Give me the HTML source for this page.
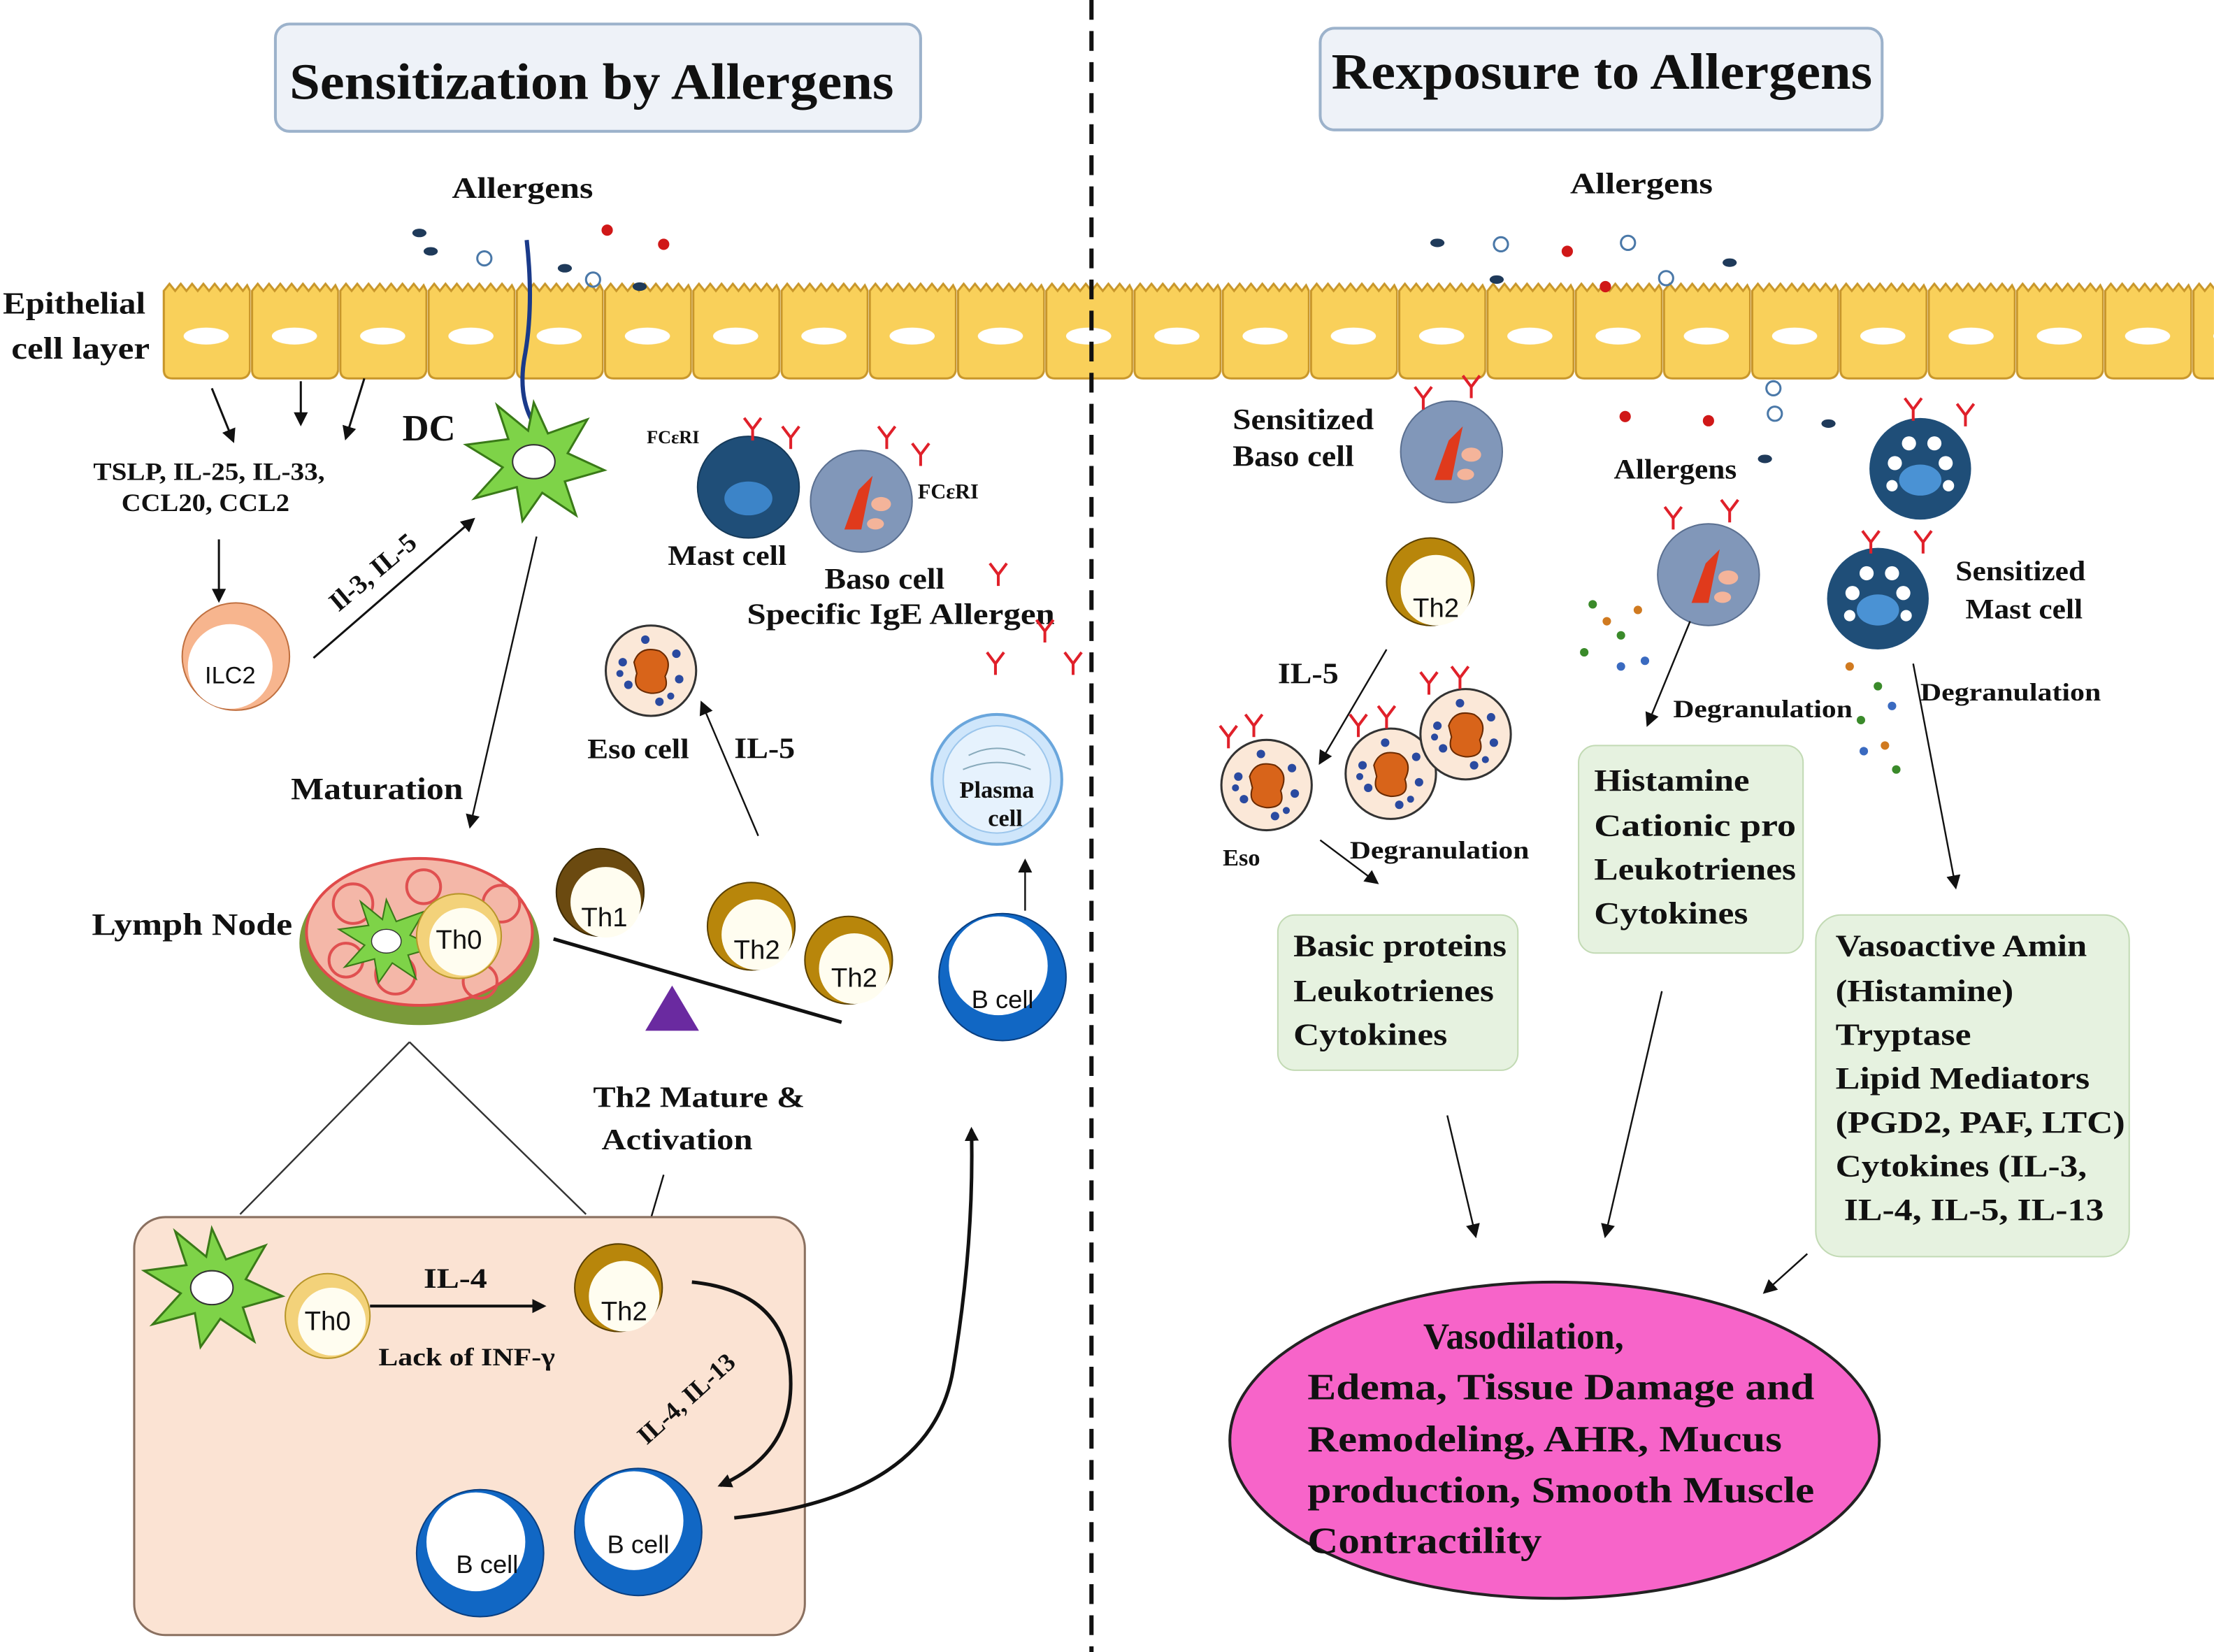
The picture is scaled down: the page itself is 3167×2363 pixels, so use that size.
<!DOCTYPE html>
<html><head><meta charset="utf-8"><style>
html,body{margin:0;padding:0;background:#fff;}
svg{display:block;}
text{font-family:"Liberation Serif",serif;font-weight:bold;fill:#111;}
.s{font-family:"Liberation Sans",sans-serif;font-weight:normal;}
</style></head><body>
<svg width="3167" height="2363" viewBox="0 0 1568 1170" xmlns="http://www.w3.org/2000/svg">
<defs>
<pattern id="cells" x="115" y="198" width="62.5" height="72" patternUnits="userSpaceOnUse">
<path d="M1,8 l4,-5 l4,5 l4,-5 l4,5 l4,-5 l4,5 l4,-5 l4,5 l4,-5 l4,5 l4,-5 l4,5 l4,-5 l4,5 l3,-4 l2,4 V64 Q61,70 55,70 H7 Q1,70 1,64 Z" fill="#f9d05a" stroke="#c8962a" stroke-width="1.5"/>
<ellipse cx="31" cy="40" rx="16" ry="6" fill="#fff"/>
</pattern>
<marker id="a" markerWidth="10" markerHeight="10" refX="8" refY="5" orient="auto" markerUnits="userSpaceOnUse"><path d="M0,0 L10,5 L0,10 Z" fill="#111"/></marker>
<g id="thG"><circle r="31" fill="#b8860b" stroke="#5a4000" stroke-width="1"/><circle cx="4" cy="6" r="25" fill="#fffdf0"/></g>
<g id="thD"><circle r="31" fill="#6b4a10" stroke="#3a2800" stroke-width="1"/><circle cx="4" cy="7" r="25" fill="#fffdf0"/></g>
<g id="th0"><circle r="30" fill="#f3d27a" stroke="#b8962a"/><circle cx="3" cy="4" r="24" fill="#fffdf0"/></g>
<g id="bc"><circle r="45" fill="#1167c4" stroke="#0a3f80"/><circle cx="-3" cy="-8" r="35" fill="#fff"/></g>
<g id="mast"><circle r="36" fill="#1f4e78" stroke="#163a5a"/><ellipse cx="0" cy="8" rx="17" ry="12" fill="#3c84c8"/></g>
<g id="mastS"><circle r="36" fill="#1f4e78"/><ellipse cx="0" cy="8" rx="15" ry="11" fill="#4a92d4"/><circle cx="-18" cy="-4" r="5" fill="#fff"/><circle cx="18" cy="-4" r="5" fill="#fff"/><circle cx="-8" cy="-18" r="5" fill="#fff"/><circle cx="10" cy="-18" r="5" fill="#fff"/><circle cx="-20" cy="12" r="4" fill="#fff"/><circle cx="20" cy="12" r="4" fill="#fff"/></g>
<g id="baso"><circle r="36" fill="#8197b9" stroke="#5a6f90"/><path d="M-12,20 L-2,-8 L8,-18 L4,0 L0,20 Z" fill="#e03a1c"/><ellipse cx="14" cy="2" rx="7" ry="5" fill="#f4b49a"/><ellipse cx="10" cy="16" rx="6" ry="4" fill="#f4b49a"/></g>
<g id="eso"><circle r="32" fill="#fbe8d8" stroke="#333" stroke-width="1.5"/><path d="M-12,-6 Q-8,-18 6,-14 Q16,-8 10,4 Q14,16 0,16 Q-14,14 -10,2 Z" fill="#d8641a" stroke="#6a2a00"/><g fill="#2a4aa0"><circle cx="-20" cy="-6" r="3"/><circle cx="-16" cy="10" r="3"/><circle cx="18" cy="-12" r="3"/><circle cx="20" cy="6" r="3"/><circle cx="-4" cy="-22" r="3"/><circle cx="6" cy="22" r="3"/><circle cx="-22" cy="2" r="2.5"/><circle cx="14" cy="18" r="2.5"/></g></g>
<g id="dc"><path d="M0,-40 L10,-18 L38,-28 L24,-4 L50,8 L22,16 L30,40 L6,24 L-8,44 L-12,20 L-42,28 L-22,6 L-48,-10 L-18,-14 L-26,-38 L-4,-20 Z" fill="#7ed348" stroke="#3a7a18" stroke-width="1.5"/><ellipse cx="0" cy="2" rx="15" ry="12" fill="#fff" stroke="#333"/></g>
<g id="y"><path d="M0,0 V-8 M0,-8 L-6,-16 M0,-8 L6,-16" stroke="#e0202a" stroke-width="2" fill="none"/></g>
</defs>

<rect x="195" y="17" width="457" height="76" rx="10" fill="#eef2f8" stroke="#9cb2cb" stroke-width="2"/>
<text x="205" y="70" font-size="36" textLength="428" lengthAdjust="spacingAndGlyphs">Sensitization by Allergens</text>
<rect x="935" y="20" width="398" height="72" rx="10" fill="#eef2f8" stroke="#9cb2cb" stroke-width="2"/>
<text x="943" y="63" font-size="36" textLength="383" lengthAdjust="spacingAndGlyphs">Rexposure to Allergens</text>

<rect x="115" y="198" width="1453" height="72" fill="url(#cells)"/>
<line x1="773" y1="0" x2="773" y2="1170" stroke="#111" stroke-width="3" stroke-dasharray="14,8"/>

<text x="2" y="222" font-size="22" textLength="101" lengthAdjust="spacingAndGlyphs">Epithelial</text>
<text x="8" y="254" font-size="22" textLength="98" lengthAdjust="spacingAndGlyphs">cell layer</text>
<text x="320" y="140" font-size="21" textLength="100" lengthAdjust="spacingAndGlyphs">Allergens</text>
<text x="1112" y="137" font-size="21" textLength="101" lengthAdjust="spacingAndGlyphs">Allergens</text>

<g fill="#1f3a5a"><ellipse cx="297" cy="165" rx="5" ry="3"/><ellipse cx="305" cy="178" rx="5" ry="3"/><ellipse cx="400" cy="190" rx="5" ry="3"/><ellipse cx="453" cy="203" rx="5" ry="3"/></g>
<g fill="none" stroke="#4a78a8" stroke-width="1.5"><circle cx="343" cy="183" r="5"/><circle cx="420" cy="198" r="5"/></g>
<g fill="#d01818"><circle cx="430" cy="163" r="4"/><circle cx="470" cy="173" r="4"/></g>
<path d="M373,170 Q378,215 372,250 Q366,280 378,300" stroke="#1a3a8a" stroke-width="3" fill="none"/>
<g fill="#1f3a5a"><ellipse cx="1018" cy="172" rx="5" ry="3"/><ellipse cx="1225" cy="186" rx="5" ry="3"/><ellipse cx="1060" cy="198" rx="5" ry="3"/><ellipse cx="1295" cy="300" rx="5" ry="3"/><ellipse cx="1250" cy="325" rx="5" ry="3"/></g>
<g fill="none" stroke="#4a78a8" stroke-width="1.5"><circle cx="1063" cy="173" r="5"/><circle cx="1153" cy="172" r="5"/><circle cx="1180" cy="197" r="5"/><circle cx="1256" cy="275" r="5"/><circle cx="1257" cy="293" r="5"/></g>
<g fill="#d01818"><circle cx="1110" cy="178" r="4"/><circle cx="1137" cy="203" r="4"/><circle cx="1151" cy="295" r="4"/><circle cx="1210" cy="298" r="4"/></g>

<line x1="150" y1="275" x2="165" y2="312" stroke="#111" stroke-width="1.5" marker-end="url(#a)"/>
<line x1="213" y1="270" x2="213" y2="300" stroke="#111" stroke-width="1.5" marker-end="url(#a)"/>
<line x1="258" y1="268" x2="245" y2="310" stroke="#111" stroke-width="1.5" marker-end="url(#a)"/>
<text x="66" y="340" font-size="18" textLength="164" lengthAdjust="spacingAndGlyphs">TSLP, IL-25, IL-33,</text>
<text x="86" y="362" font-size="18" textLength="119" lengthAdjust="spacingAndGlyphs">CCL20, CCL2</text>
<line x1="155" y1="382" x2="155" y2="425" stroke="#111" stroke-width="1.5" marker-end="url(#a)"/>
<circle cx="167" cy="465" r="38" fill="#f7b58e" stroke="#c07040"/>
<circle cx="163" cy="472" r="30" fill="#fff"/>
<text x="163" y="484" class="s" font-size="17" text-anchor="middle">ILC2</text>
<line x1="222" y1="466" x2="335" y2="368" stroke="#111" stroke-width="1.5" marker-end="url(#a)"/>
<text x="268" y="410" font-size="19" text-anchor="middle" transform="rotate(-40 268 410)">Il-3, IL-5</text>
<use href="#dc" x="378" y="325"/>
<text x="285" y="312" font-size="26">DC</text>
<line x1="380" y1="380" x2="333" y2="585" stroke="#111" stroke-width="1.2" marker-end="url(#a)"/>
<text x="206" y="566" font-size="22" textLength="122" lengthAdjust="spacingAndGlyphs">Maturation</text>

<use href="#mast" x="530" y="345"/>
<use href="#y" x="533" y="312"/><use href="#y" x="560" y="318"/>
<text x="458" y="314" font-size="13">FCεRI</text>
<text x="473" y="400" font-size="20" textLength="84" lengthAdjust="spacingAndGlyphs">Mast cell</text>
<use href="#baso" x="610" y="355"/>
<use href="#y" x="628" y="318"/><use href="#y" x="652" y="330"/>
<text x="650" y="353" font-size="15">FCεRI</text>
<text x="584" y="417" font-size="21" textLength="85" lengthAdjust="spacingAndGlyphs">Baso cell</text>
<text x="529" y="442" font-size="21" textLength="218" lengthAdjust="spacingAndGlyphs">Specific IgE Allergen</text>
<use href="#y" x="707" y="415"/><use href="#y" x="740" y="455"/><use href="#y" x="705" y="478"/><use href="#y" x="760" y="478"/>

<use href="#eso" x="461" y="475"/>
<text x="416" y="537" font-size="20" textLength="72" lengthAdjust="spacingAndGlyphs">Eso cell</text>
<text x="520" y="537" font-size="21" textLength="43" lengthAdjust="spacingAndGlyphs">IL-5</text>
<line x1="537" y1="592" x2="497" y2="498" stroke="#111" stroke-width="1.2" marker-end="url(#a)"/>

<circle cx="706" cy="552" r="46" fill="#cfe6fb" stroke="#6aa6dc" stroke-width="2"/>
<circle cx="706" cy="552" r="38" fill="#e6f2fd" stroke="#9cc6ec"/>
<path d="M686,535 Q706,525 726,535 M682,545 Q706,535 730,545" stroke="#8ab" fill="none"/>
<text x="706" y="565" font-size="17" text-anchor="middle">Plasma</text>
<text x="712" y="585" font-size="17" text-anchor="middle">cell</text>
<line x1="726" y1="645" x2="726" y2="610" stroke="#111" stroke-width="1.2" marker-end="url(#a)"/>
<use href="#bc" x="710" y="692"/>
<text x="710" y="714" class="s" font-size="18" text-anchor="middle">B cell</text>

<ellipse cx="297" cy="668" rx="85" ry="58" fill="#7a9a3a"/>
<ellipse cx="297" cy="660" rx="80" ry="52" fill="#f4b7a8" stroke="#e04a4a" stroke-width="2"/>
<g fill="none" stroke="#e05050" stroke-width="2"><circle cx="250" cy="640" r="14"/><circle cx="280" cy="690" r="14"/><circle cx="355" cy="640" r="13"/><circle cx="245" cy="680" r="12"/><circle cx="340" cy="695" r="12"/><circle cx="300" cy="628" r="12"/></g>
<use href="#dc" x="268" y="656" transform="translate(86 206) scale(0.7)" />
<use href="#th0" x="325" y="663"/>
<text x="325" y="672" class="s" font-size="19" text-anchor="middle">Th0</text>
<text x="65" y="662" font-size="22" textLength="142" lengthAdjust="spacingAndGlyphs">Lymph  Node</text>

<line x1="392" y1="665" x2="596" y2="724" stroke="#111" stroke-width="2.5"/>
<use href="#thD" x="425" y="632"/><text x="428" y="656" class="s" font-size="19" text-anchor="middle">Th1</text>
<use href="#thG" x="532" y="656"/><text x="536" y="679" class="s" font-size="19" text-anchor="middle">Th2</text>
<use href="#thG" x="601" y="680"/><text x="605" y="699" class="s" font-size="19" text-anchor="middle">Th2</text>
<path d="M457,730 L476,698 L495,730 Z" fill="#6a2aa0"/>

<line x1="170" y1="860" x2="290" y2="738" stroke="#333" stroke-width="1.2"/>
<line x1="290" y1="738" x2="415" y2="860" stroke="#333" stroke-width="1.2"/>
<text x="420" y="784" font-size="21" textLength="150" lengthAdjust="spacingAndGlyphs">Th2 Mature &amp;</text>
<text x="426" y="814" font-size="21" textLength="107" lengthAdjust="spacingAndGlyphs">Activation</text>
<line x1="470" y1="832" x2="458" y2="873" stroke="#111" stroke-width="1.2" marker-end="url(#a)"/>

<rect x="95" y="862" width="475" height="296" rx="22" fill="#fbe3d3" stroke="#8a7060" stroke-width="1.5"/>
<use href="#dc" x="150" y="910"/>
<use href="#th0" x="232" y="932"/><text x="232" y="942" class="s" font-size="19" text-anchor="middle">Th0</text>
<line x1="262" y1="925" x2="385" y2="925" stroke="#111" stroke-width="2" marker-end="url(#a)"/>
<text x="300" y="912" font-size="20" textLength="45" lengthAdjust="spacingAndGlyphs">IL-4</text>
<text x="268" y="967" font-size="18" textLength="125" lengthAdjust="spacingAndGlyphs">Lack of INF-γ</text>
<use href="#thG" x="438" y="912"/><text x="442" y="935" class="s" font-size="19" text-anchor="middle">Th2</text>
<path d="M490,908 Q560,915 560,980 Q560,1030 510,1052" stroke="#111" stroke-width="2.5" fill="none" marker-end="url(#a)"/>
<text x="490" y="995" font-size="18" text-anchor="middle" transform="rotate(-42 490 995)">IL-4, IL-13</text>
<use href="#bc" x="340" y="1100"/><text x="345" y="1114" class="s" font-size="18" text-anchor="middle">B cell</text>
<use href="#bc" x="452" y="1085"/><text x="452" y="1100" class="s" font-size="18" text-anchor="middle">B cell</text>
<path d="M520,1075 Q660,1060 675,970 Q690,880 688,800" stroke="#111" stroke-width="2.5" fill="none" marker-end="url(#a)"/>

<text x="873" y="304" font-size="21" textLength="100" lengthAdjust="spacingAndGlyphs">Sensitized</text>
<text x="873" y="330" font-size="21" textLength="86" lengthAdjust="spacingAndGlyphs">Baso cell</text>
<use href="#baso" x="1028" y="320"/>
<use href="#y" x="1008" y="290"/><use href="#y" x="1042" y="282"/>
<use href="#thG" x="1013" y="412"/><text x="1017" y="437" class="s" font-size="19" text-anchor="middle">Th2</text>
<text x="905" y="484" font-size="21" textLength="43" lengthAdjust="spacingAndGlyphs">IL-5</text>
<line x1="982" y1="460" x2="935" y2="540" stroke="#111" stroke-width="1.2" marker-end="url(#a)"/>
<use href="#eso" x="897" y="556"/><use href="#eso" x="985" y="548"/><use href="#eso" x="1038" y="520"/>
<use href="#y" x="870" y="530"/><use href="#y" x="888" y="522"/><use href="#y" x="962" y="522"/><use href="#y" x="982" y="516"/><use href="#y" x="1012" y="492"/><use href="#y" x="1034" y="488"/>
<text x="866" y="613" font-size="17">Eso</text>
<text x="956" y="608" font-size="18" textLength="127" lengthAdjust="spacingAndGlyphs">Degranulation</text>
<line x1="935" y1="595" x2="975" y2="625" stroke="#111" stroke-width="1.2" marker-end="url(#a)"/>
<rect x="905" y="648" width="170" height="110" rx="12" fill="#e6f2e0" stroke="#c2dab4"/>
<text x="916" y="677" font-size="22" textLength="151" lengthAdjust="spacingAndGlyphs">Basic proteins</text>
<text x="916" y="709" font-size="22" textLength="142" lengthAdjust="spacingAndGlyphs">Leukotrienes</text>
<text x="916" y="740" font-size="22" textLength="109" lengthAdjust="spacingAndGlyphs">Cytokines</text>

<text x="1143" y="339" font-size="20" textLength="87" lengthAdjust="spacingAndGlyphs">Allergens</text>
<use href="#baso" x="1210" y="407"/>
<use href="#y" x="1185" y="375"/><use href="#y" x="1225" y="370"/>
<line x1="1197" y1="440" x2="1167" y2="513" stroke="#111" stroke-width="1.2" marker-end="url(#a)"/>
<text x="1185" y="508" font-size="18" textLength="127" lengthAdjust="spacingAndGlyphs">Degranulation</text>
<g fill="#3a8a2a"><circle cx="1128" cy="428" r="3"/><circle cx="1148" cy="450" r="3"/><circle cx="1122" cy="462" r="3"/><circle cx="1330" cy="486" r="3"/><circle cx="1318" cy="510" r="3"/><circle cx="1343" cy="545" r="3"/></g>
<g fill="#d07a20"><circle cx="1138" cy="440" r="3"/><circle cx="1160" cy="432" r="3"/><circle cx="1310" cy="472" r="3"/><circle cx="1335" cy="528" r="3"/></g>
<g fill="#3a6ac0"><circle cx="1165" cy="468" r="3"/><circle cx="1148" cy="472" r="3"/><circle cx="1340" cy="500" r="3"/><circle cx="1320" cy="532" r="3"/></g>
<rect x="1118" y="528" width="159" height="147" rx="12" fill="#e6f2e0" stroke="#c2dab4"/>
<text x="1129" y="560" font-size="22" textLength="110" lengthAdjust="spacingAndGlyphs">Histamine</text>
<text x="1129" y="592" font-size="22" textLength="143" lengthAdjust="spacingAndGlyphs">Cationic  pro</text>
<text x="1129" y="623" font-size="22" textLength="143" lengthAdjust="spacingAndGlyphs">Leukotrienes</text>
<text x="1129" y="654" font-size="22" textLength="109" lengthAdjust="spacingAndGlyphs">Cytokines</text>

<use href="#mastS" x="1360" y="332"/>
<use href="#y" x="1355" y="298"/><use href="#y" x="1392" y="302"/>
<use href="#mastS" x="1330" y="424"/>
<use href="#y" x="1325" y="392"/><use href="#y" x="1362" y="392"/>
<text x="1385" y="411" font-size="20" textLength="92" lengthAdjust="spacingAndGlyphs">Sensitized</text>
<text x="1392" y="438" font-size="20" textLength="83" lengthAdjust="spacingAndGlyphs">Mast cell</text>
<text x="1360" y="496" font-size="18" textLength="128" lengthAdjust="spacingAndGlyphs">Degranulation</text>
<line x1="1355" y1="470" x2="1385" y2="628" stroke="#111" stroke-width="1.2" marker-end="url(#a)"/>
<rect x="1286" y="648" width="222" height="242" rx="18" fill="#e6f2e0" stroke="#c2dab4"/>
<text x="1300" y="677" font-size="22" textLength="178" lengthAdjust="spacingAndGlyphs">Vasoactive Amin</text>
<text x="1300" y="709" font-size="22" textLength="126" lengthAdjust="spacingAndGlyphs">(Histamine)</text>
<text x="1300" y="740" font-size="22" textLength="96" lengthAdjust="spacingAndGlyphs">Tryptase</text>
<text x="1300" y="771" font-size="22" textLength="180" lengthAdjust="spacingAndGlyphs">Lipid  Mediators</text>
<text x="1300" y="802" font-size="22" textLength="205" lengthAdjust="spacingAndGlyphs">(PGD2, PAF, LTC)</text>
<text x="1300" y="833" font-size="22" textLength="178" lengthAdjust="spacingAndGlyphs">Cytokines (IL-3,</text>
<text x="1306" y="864" font-size="22" textLength="184" lengthAdjust="spacingAndGlyphs">IL-4, IL-5, IL-13</text>

<line x1="1025" y1="790" x2="1045" y2="875" stroke="#111" stroke-width="1.2" marker-end="url(#a)"/>
<line x1="1177" y1="702" x2="1137" y2="875" stroke="#111" stroke-width="1.2" marker-end="url(#a)"/>
<line x1="1280" y1="888" x2="1250" y2="915" stroke="#111" stroke-width="1.2" marker-end="url(#a)"/>
<ellipse cx="1101" cy="1020" rx="230" ry="112" fill="#f764c9" stroke="#222" stroke-width="2"/>
<text x="1008" y="955" font-size="26" textLength="142" lengthAdjust="spacingAndGlyphs">Vasodilation,</text>
<text x="926" y="991" font-size="26" textLength="359" lengthAdjust="spacingAndGlyphs">Edema, Tissue Damage and</text>
<text x="926" y="1028" font-size="26" textLength="336" lengthAdjust="spacingAndGlyphs">Remodeling, AHR, Mucus</text>
<text x="926" y="1064" font-size="26" textLength="359" lengthAdjust="spacingAndGlyphs">production, Smooth Muscle</text>
<text x="926" y="1100" font-size="26" textLength="166" lengthAdjust="spacingAndGlyphs">Contractility</text>
</svg>
</body></html>
